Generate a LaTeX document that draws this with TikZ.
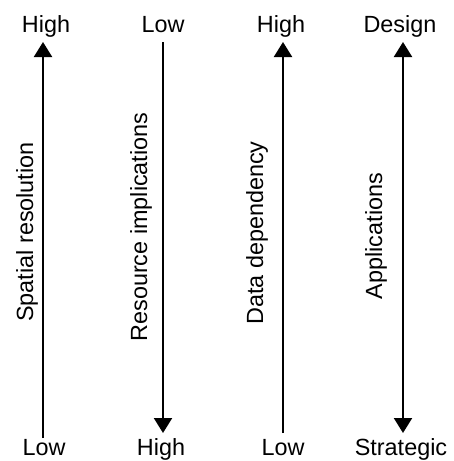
\documentclass[tikz,border=0pt]{standalone}
\usepackage{fontspec}
\setmainfont{Liberation Sans}
\usetikzlibrary{arrows.meta}

\begin{document}
\begin{tikzpicture}[x=0.5pt,y=-0.5pt,
    lbl/.style={inner sep=0pt,anchor=base,font=\fontsize{11.7}{14}\selectfont},
    scaleline/.style={line width=1.1pt},
    tip/.style={-{Triangle[width=9pt,length=7.5pt]}},
    twotip/.style={{Triangle[width=9pt,length=7.5pt]}-{Triangle[width=9pt,length=7.5pt]}},
    axisname/.style={lbl,rotate=90}]
  \useasboundingbox (0,0) rectangle (454,461);
  % end labels
  \node[lbl] (hi1) at (46,32) {High};
  \node[lbl] (lo1) at (44,455) {Low};
  \node[lbl] (lo2) at (163,32) {Low};
  \node[lbl] (hi2) at (161,455) {High};
  \node[lbl] (hi3) at (281,32) {High};
  \node[lbl] (lo3) at (283,455) {Low};
  \node[lbl] (des) at (400,32) {Design};
  \node[lbl] (str) at (401,455) {Strategic};
  % arrow ends
  \coordinate (a1) at (43,438); \coordinate (b1) at (43,42);
  \coordinate (a2) at (163,42); \coordinate (b2) at (163,433);
  \coordinate (a3) at (283,433); \coordinate (b3) at (283,42);
  \coordinate (a4) at (403,433); \coordinate (b4) at (403,42);
  \draw[scaleline,tip] (a1) -- (b1);
  \draw[scaleline,tip] (a2) -- (b2);
  \draw[scaleline,tip] (a3) -- (b3);
  \draw[scaleline,twotip] (a4) -- (b4);
  % axis names
  \node[axisname] (sp) at (33,232) {Spatial resolution};
  \node[axisname] (re) at (147,227) {Resource implications};
  \node[axisname] (da) at (263,233) {Data dependency};
  \node[axisname] (ap) at (382,236) {Applications};
\end{tikzpicture}
\end{document}
